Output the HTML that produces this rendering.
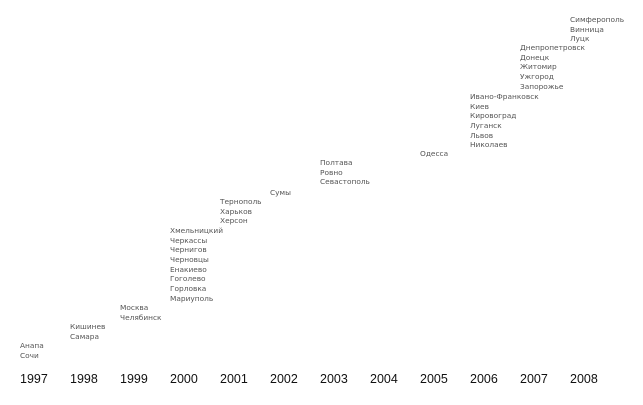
<!DOCTYPE html>
<html><head><meta charset="utf-8"><style>
body{margin:0;width:643px;height:405px;background:#fff;position:relative;overflow:hidden;font-family:"DejaVu Sans","Liberation Sans",sans-serif}
.c{position:absolute;font-size:7.4px;line-height:9.65px;color:#555;white-space:nowrap}
.y{position:absolute;top:372px;font-size:12.5px;color:#111;font-family:"Liberation Sans",sans-serif}
</style></head><body>
<div class="c" style="left:20px;top:341px">Анапа<br>Сочи</div>
<div class="c" style="left:70px;top:322px">Кишинев<br>Самара</div>
<div class="c" style="left:120px;top:303px">Москва<br>Челябинск</div>
<div class="c" style="left:170px;top:226px">Хмельницкий<br>Черкассы<br>Чернигов<br>Черновцы<br>Енакиево<br>Гоголево<br>Горловка<br>Мариуполь</div>
<div class="c" style="left:220px;top:197px">Тернополь<br>Харьков<br>Херсон</div>
<div class="c" style="left:270px;top:188px">Сумы</div>
<div class="c" style="left:320px;top:158px">Полтава<br>Ровно<br>Севастополь</div>
<div class="c" style="left:420px;top:149px">Одесса</div>
<div class="c" style="left:470px;top:92px">Ивано-Франковск<br>Киев<br>Кировоград<br>Луганск<br>Львов<br>Николаев</div>
<div class="c" style="left:520px;top:43px">Днепропетровск<br>Донецк<br>Житомир<br>Ужгород<br>Запорожье</div>
<div class="c" style="left:570px;top:15px">Симферополь<br>Винница<br>Луцк</div>
<div class="y" style="left:20px">1997</div>
<div class="y" style="left:70px">1998</div>
<div class="y" style="left:120px">1999</div>
<div class="y" style="left:170px">2000</div>
<div class="y" style="left:220px">2001</div>
<div class="y" style="left:270px">2002</div>
<div class="y" style="left:320px">2003</div>
<div class="y" style="left:370px">2004</div>
<div class="y" style="left:420px">2005</div>
<div class="y" style="left:470px">2006</div>
<div class="y" style="left:520px">2007</div>
<div class="y" style="left:570px">2008</div>
</body></html>
